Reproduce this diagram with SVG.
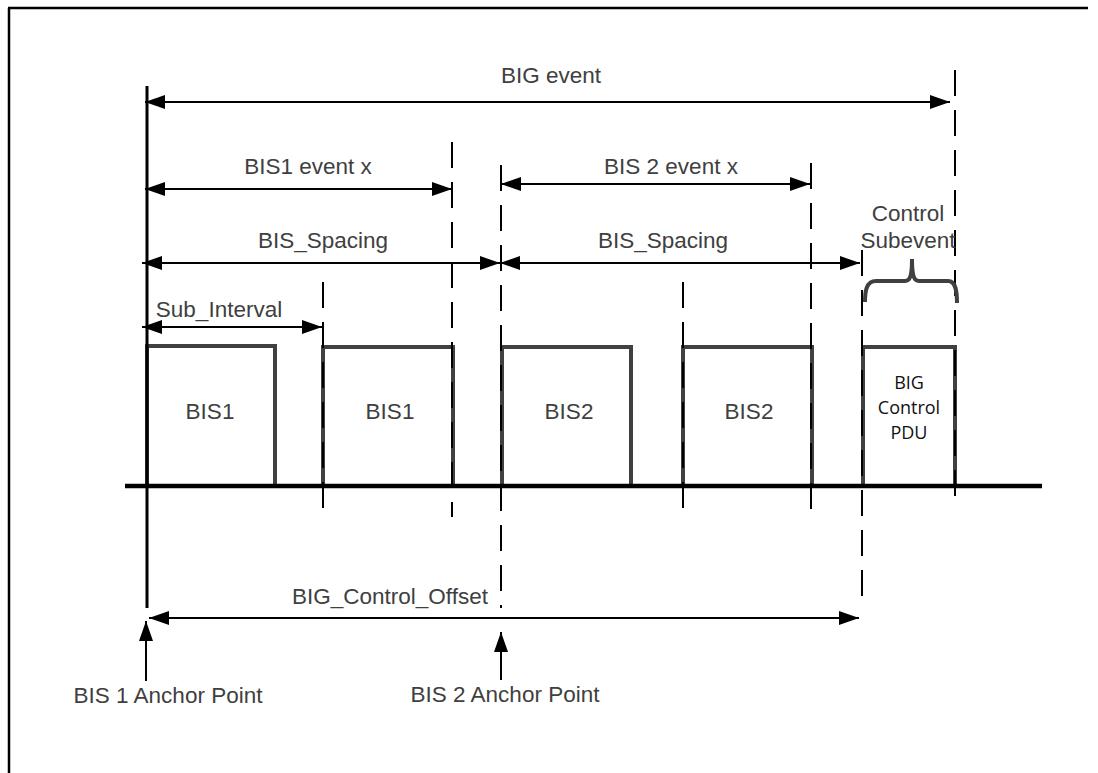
<svg xmlns="http://www.w3.org/2000/svg" width="1098" height="773" viewBox="0 0 1098 773">
<style>
.lbl{font-family:"Liberation Sans",Arial,sans-serif;font-size:22.5px;fill:#404040;text-anchor:middle}
.pdu{font-family:"Open Sans","Noto Sans",sans-serif;font-size:18px;fill:#111;text-anchor:middle}
.dash{stroke:#000;stroke-width:2;stroke-dasharray:26 14;fill:none}
.arr{stroke:#000;stroke-width:2;fill:none;marker-start:url(#ah);marker-end:url(#ah)}
.one{stroke:#000;stroke-width:2;fill:none;marker-end:url(#ah)}
.box{fill:#fff;stroke:#404040;stroke-width:4}
</style>
<defs>
<marker id="ah" viewBox="0 0 20 14" refX="20" refY="7" markerWidth="20" markerHeight="14" markerUnits="userSpaceOnUse" orient="auto-start-reverse">
<path d="M0,0 L20,7 L0,14 z" fill="#000"/>
</marker>
</defs>
<rect width="1098" height="773" fill="#fff"/>
<g id="frame">
<line x1="8" y1="8" x2="1088" y2="8" stroke="#000" stroke-width="2.5"/>
<line x1="9" y1="8" x2="9" y2="773" stroke="#000" stroke-width="2.5"/>
</g>
<g id="boxes">
<g id="bis1a"><path class="box" d="M147,486 V346 H275 V486"/><text class="lbl" x="210" y="419">BIS1</text></g>
<g id="bis1b"><path class="box" d="M323,486 V347 H453 V486"/><text class="lbl" x="390" y="419">BIS1</text></g>
<g id="bis2a"><path class="box" d="M502,486 V347 H631 V486"/><text class="lbl" x="569" y="419">BIS2</text></g>
<g id="bis2b"><path class="box" d="M683,486 V347 H812 V486"/><text class="lbl" x="749" y="419">BIS2</text></g>
<g id="ctrl"><path class="box" d="M863,486 V347 H955 V486"/>
<text class="pdu" x="909" y="389">BIG</text><text class="pdu" x="909" y="414">Control</text><text class="pdu" x="909" y="439">PDU</text></g>
</g>
<g id="timeline">
<line x1="125" y1="486" x2="1042" y2="486" stroke="#000" stroke-width="4.5"/>
<line x1="147" y1="86" x2="147" y2="608" stroke="#000" stroke-width="3"/>
</g>
<g id="dashes">
<line class="dash" x1="323" y1="282" x2="323" y2="516"/>
<line class="dash" x1="452" y1="142" x2="452" y2="517"/>
<line class="dash" x1="501" y1="165" x2="501" y2="608"/>
<line class="dash" x1="683" y1="282" x2="683" y2="516"/>
<line class="dash" x1="811" y1="163" x2="811" y2="521"/>
<line class="dash" x1="862" y1="250" x2="862" y2="608"/>
<line class="dash" x1="955" y1="70" x2="955" y2="504"/>
</g>
<g id="connectors">
<line class="arr" x1="145" y1="102" x2="950" y2="102"/>
<line class="arr" x1="145" y1="189" x2="452" y2="189"/>
<line class="arr" x1="501" y1="184" x2="810" y2="184"/>
<line class="arr" x1="142" y1="263" x2="500" y2="263"/>
<line class="arr" x1="500" y1="263" x2="860" y2="263"/>
<line class="arr" x1="142" y1="327" x2="322" y2="327"/>
<line class="arr" x1="149" y1="618" x2="859" y2="618"/>
<line class="one" x1="146" y1="681" x2="146" y2="621"/>
<line class="one" x1="501" y1="680" x2="501" y2="632"/>
<path d="M865,302 C865,292 866,281 876,281 H905 C910,281 912,276 912,259 C912,276 914,281 919,281 H948 C956,281 957,292 957,303" fill="none" stroke="#404040" stroke-width="4"/>
</g>
<g id="labels">
<text class="lbl" x="551" y="83">BIG event</text>
<text class="lbl" x="308" y="174">BIS1 event x</text>
<text class="lbl" x="671" y="174">BIS 2 event x</text>
<text class="lbl" x="323" y="248">BIS_Spacing</text>
<text class="lbl" x="663" y="248">BIS_Spacing</text>
<text class="lbl" x="219" y="317">Sub_Interval</text>
<text class="lbl" x="908" y="221">Control</text>
<text class="lbl" x="908" y="248">Subevent</text>
<text class="lbl" x="390" y="604">BIG_Control_Offset</text>
<text class="lbl" x="168" y="703">BIS 1 Anchor Point</text>
<text class="lbl" x="505" y="702">BIS 2 Anchor Point</text>
</g>
</svg>
